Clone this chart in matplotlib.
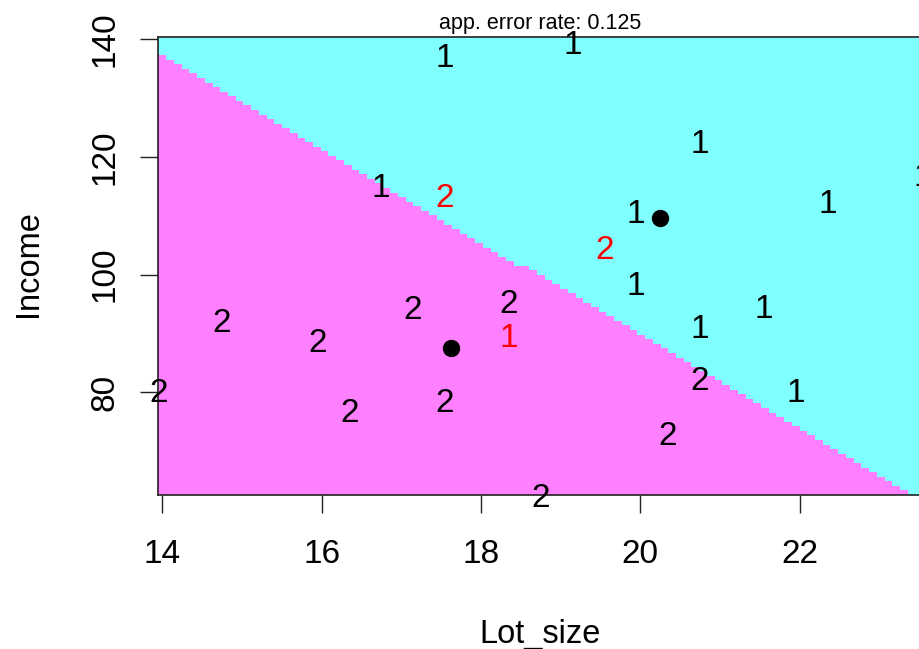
import numpy as np
import matplotlib
matplotlib.use("Agg")
import matplotlib.pyplot as plt
from matplotlib.colors import ListedColormap

plt.rcParams['font.family'] = ['Liberation Sans', 'DejaVu Sans']

lot_size_1 = [17.6, 19.2, 20.8, 16.8, 20.0, 22.4, 23.6, 20.0, 21.6, 20.8, 22.0, 18.4]
income_1 = [137.3, 139.5, 122.7, 115.2, 110.7, 112.4, 117.0, 98.6, 94.6, 91.2, 80.4, 89.7]
pred_1 = [1, 1, 1, 1, 1, 1, 1, 1, 1, 1, 1, 2]

# class 2 observations
lot_size_2 = [14.8, 16.0, 17.2, 18.4, 14.0, 16.4, 17.6, 20.8, 20.4, 18.8, 17.6, 19.6]
income_2 = [92.3, 88.9, 94.5, 95.5, 80.4, 77.0, 78.7, 82.5, 73.0, 62.6, 113.5, 104.6]
pred_2 = [2, 2, 2, 2, 2, 2, 2, 2, 2, 2, 1, 1]

# class means (black dots)
centroid_lot = [20.25, 17.63]
centroid_inc = [109.6, 87.5]

# two points on the decision boundary
boundary_lot = [14.0, 23.36]
boundary_inc = [137.3, 62.95]

error_rate = 0.125
xticks = [14, 16, 18, 20, 22]
yticks = [80, 100, 120, 140]

fig = plt.figure(figsize=(9.2, 6.49), dpi=100)
ax = fig.add_axes([158.5 / 920, (649 - 495) / 649, (922.3 - 158.5) / 920, (495 - 36.7) / 649])

xlim = (13.952, 23.54)
ylim = (62.56, 140.4)

# partition image, 100 x 100 cells like klaR::partimat
gx = np.linspace(13.952, 23.648, 101)
gy = np.linspace(ylim[0], ylim[1], 101)
cx = (gx[:-1] + gx[1:]) / 2
cy = (gy[:-1] + gy[1:]) / 2
slope = (boundary_inc[1] - boundary_inc[0]) / (boundary_lot[1] - boundary_lot[0])
line = boundary_inc[0] + slope * (cx - boundary_lot[0])
Z = (cy[:, None] > line[None, :]).astype(int)
ax.pcolormesh(gx, gy, Z, cmap=ListedColormap(['#FF80FF', '#80FFFF']),
              shading='flat', antialiased=False, edgecolors='none')

fs = 24
for xs, ys, preds, cls in [(lot_size_1, income_1, pred_1, 1), (lot_size_2, income_2, pred_2, 2)]:
    for x, y, p in zip(xs, ys, preds):
        # R centres the digit a little left of where matplotlib does
        ax.annotate(str(cls), (x, y), xytext=(-3, -0.358 * fs), textcoords='offset points',
                    ha='center', va='baseline', fontsize=fs,
                    color='black' if p == cls else 'red', annotation_clip=False)

ax.plot(centroid_lot, centroid_inc, 'o', color='black', ms=11.5, clip_on=False)

ax.set_xlim(*xlim)
ax.set_ylim(*ylim)
ax.set_xticks(xticks)
ax.set_yticks(yticks)
ax.tick_params(length=13, width=1.0, color='#222222', labelsize=24)
ax.tick_params(axis='x', pad=19)
ax.tick_params(axis='y', pad=14.5)
for lab in ax.get_yticklabels():
    lab.set_rotation(90)
    lab.set_va('center')
for s in ax.spines.values():
    s.set_linewidth(1.2)
    s.set_color('#222222')

fig.text(540.4 / 920, 1 - 29.3 / 649, 'app. error rate: %.3f' % error_rate,
         ha='center', va='baseline', fontsize=15.5)
fig.text(540.4 / 920, 1 - 643.3 / 649, 'Lot_size', ha='center', va='baseline', fontsize=23.5)
fig.text(37 / 920, 1 - 264 / 649, 'Income', rotation=90, rotation_mode='anchor',
         ha='center', va='baseline', fontsize=23.5)

fig.savefig('out.png', dpi=100)
